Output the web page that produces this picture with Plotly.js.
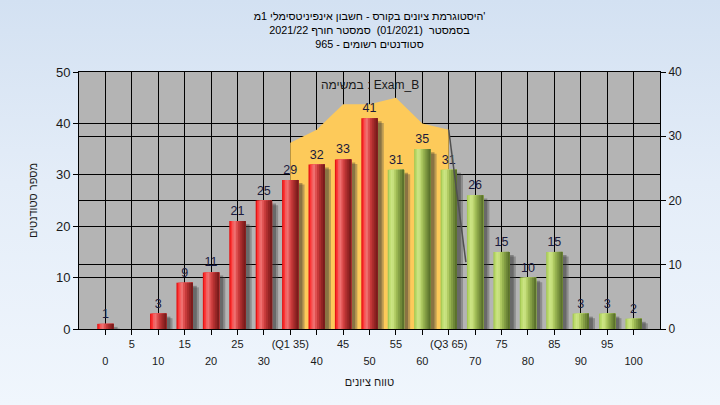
<!DOCTYPE html>
<html>
<head>
<meta charset="utf-8">
<script src="https://cdn.plot.ly/plotly-3.0.1.min.js"></script>
<style>
  html, body { margin: 0; padding: 0; }
  #chart { width: 720px; height: 405px; background: linear-gradient(to bottom, #d3e1f2 0%, #e4edf8 45%, #f0f6fd 100%); }
</style>
</head>
<body>
<div id="chart"></div>
<script>
// ---- data ----
const scoreCategories = [0, 5, 10, 15, 20, 25, 30, 35, 40, 45, 50, 55, 60, 65, 70, 75, 80, 85, 90, 95, 100];
const tickLabels = ['0', '5', '10', '15', '20', '25', '30', '(Q1 35)', '40', '45', '50', '55', '60', '(Q3 65)', '70', '75', '80', '85', '90', '95', '100'];
const studentCounts = [1, 0, 3, 9, 11, 21, 25, 29, 32, 33, 41, 31, 35, 31, 26, 15, 10, 15, 3, 3, 2];
const examBCategoryIndex = [7, 8, 9, 10, 11, 12, 13];
const examBValues = [29, 31, 35, 35, 36, 32, 31];
const edgeLineX = [13, 13.65];
const edgeLineY = [31, 10.4];
const redUpToScore = 50;

const titleLines = [
  "היסטוגרמת ציונים בקורס - חשבון אינפיניטסימלי 1מ'",
  "בסמסטר\u00A0 (01/2021) \u00A0סמסטר חורף 2021/22",
  "סטודנטים רשומים - 965"
];
const xAxisTitle = 'טווח ציונים';
const yAxisTitle = 'מספר סטודנטים';
const seriesLabel = 'במשימה : Exam_B';

// ---- styling ----
const FONT = '"Liberation Sans", Arial, "DejaVu Sans", sans-serif';
const W = 0.62;
const stripStarts = [0, 0.08, 0.18, 0.28, 0.40, 0.52, 0.64, 0.76, 0.88];
const redShades = ['#e41414', '#fc3636', '#f45e5e', '#ef7070', '#de5050', '#c63a3a', '#ac2e2e', '#942424', '#7a1c1c'];
const greenShades = ['#a6c956', '#bcdb6c', '#cbe483', '#c6df7c', '#afca62', '#97b350', '#839d44', '#6f8838', '#5b722c'];

const idx = scoreCategories.map((_, i) => i);
const oddIdx = idx.filter(i => i % 2 === 1);
const evenIdx = idx.filter(i => i % 2 === 0);

const traces = [];

// yellow area (right axis, behind bars)
traces.push({
  type: 'scatter', mode: 'lines', x: examBCategoryIndex, y: examBValues,
  xaxis: 'x', yaxis: 'y', fill: 'tozeroy', fillcolor: '#fdca5a',
  line: {width: 0, color: '#fdca5a'}, hoverinfo: 'skip', showlegend: false
});
// edge line
traces.push({
  type: 'scatter', mode: 'lines', x: edgeLineX, y: edgeLineY,
  xaxis: 'x2', yaxis: 'y', line: {width: 1.5, color: '#505050'},
  hoverinfo: 'skip', showlegend: false
});

// shadows
[[0.1, W + 0.13, -0.9, 'rgba(70,70,70,0.35)'], [0.1, W + 0.05, -0.6, 'rgba(40,40,40,0.35)']].forEach(s => {
  traces.push({
    type: 'bar', x: idx, y: studentCounts, xaxis: 'x', yaxis: 'y2',
    offset: -W / 2 + s[0], width: s[1], base: s[2],
    marker: {color: s[3], line: {width: 0}}, hoverinfo: 'skip', showlegend: false
  });
});

// cylinder strips
stripStarts.forEach((s, k) => {
  const tr = {
    type: 'bar', x: idx, y: studentCounts, xaxis: 'x', yaxis: 'y2',
    offset: -W / 2 + s * W, width: W * (1 - s),
    marker: {color: scoreCategories.map(c => c <= redUpToScore ? redShades[k] : greenShades[k]), line: {width: 0}},
    hoverinfo: 'skip', showlegend: false
  };
  if (k === 0) {
    tr.text = studentCounts.map(v => v ? String(v) : '');
    tr.textposition = 'outside';
    tr.textfont = {family: FONT, size: 12.5, color: '#1a1a3c'};
    tr.cliponaxis = false;
  }
  traces.push(tr);
});

const axisCommon = {
  showline: true, linecolor: '#000', linewidth: 1,
  ticks: 'outside', ticklen: 5, tickcolor: '#000',
  showgrid: true, gridcolor: '#000', gridwidth: 1,
  zeroline: false, fixedrange: true
};

const layout = {
  width: 720, height: 405,
  margin: {l: 79, r: 60, t: 72, b: 76},
  paper_bgcolor: 'rgba(0,0,0,0)',
  plot_bgcolor: '#b4b4b4',
  barmode: 'overlay',
  showlegend: false,
  font: {family: FONT, color: '#1a1a1a'},
  title: {
    text: titleLines.join('<br>'),
    x: 0.5, xanchor: 'center', xref: 'paper',
    y: 0.95, yref: 'container', yanchor: 'top',
    font: {family: FONT, size: 10.8, color: '#000'}
  },
  xaxis: Object.assign({}, axisCommon, {
    range: [-1, 21], tickmode: 'array', tickvals: oddIdx,
    ticktext: oddIdx.map(i => tickLabels[i]), mirror: true,
    tickfont: {family: FONT, size: 11, color: '#1a1a1a'}
  }),
  xaxis2: Object.assign({}, axisCommon, {
    overlaying: 'x', anchor: 'y', side: 'bottom', range: [-1, 21],
    tickmode: 'array', tickvals: evenIdx, ticktext: evenIdx.map(i => tickLabels[i]),
    ticklabelstandoff: 17,
    tickfont: {family: FONT, size: 11, color: '#1a1a1a'},
    title: {text: xAxisTitle, font: {family: FONT, size: 11, color: '#1a1a1a'}, standoff: 12}
  }),
  yaxis: Object.assign({}, axisCommon, {
    side: 'right', range: [0, 40], tickmode: 'linear', tick0: 0, dtick: 10,
    tickfont: {family: FONT, size: 12, color: '#1a1a1a'}
  }),
  yaxis2: Object.assign({}, axisCommon, {
    overlaying: 'y', side: 'left', range: [0, 50], tickmode: 'linear', tick0: 0, dtick: 10,
    tickfont: {family: FONT, size: 13, color: '#1a1a1a'},
    title: {text: yAxisTitle, font: {family: FONT, size: 11, color: '#1a1a1a'}, standoff: 16}
  }),
  annotations: [{
    text: seriesLabel, x: 10, xref: 'x', y: 47.4, yref: 'y2',
    showarrow: false, font: {family: FONT, size: 12, color: '#1a1a1a'}
  }]
};

Plotly.newPlot('chart', traces, layout, {displayModeBar: false, staticPlot: true});
</script>
</body>
</html>
